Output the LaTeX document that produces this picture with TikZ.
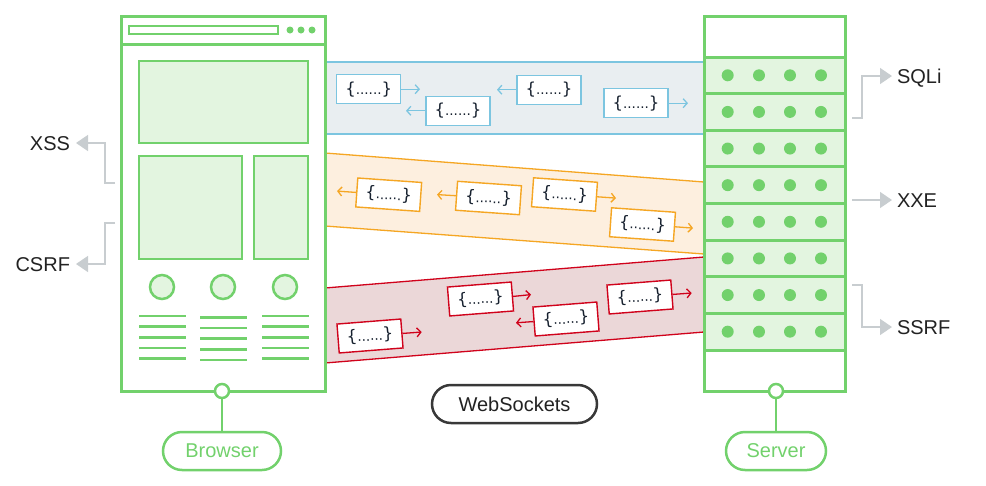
\documentclass[tikz,border=0pt]{standalone}
\usepackage{fontspec}
\setmainfont{Liberation Sans}
\newfontfamily\boxfont{DejaVu Sans}
\usetikzlibrary{arrows.meta}
\definecolor{gr}{HTML}{72D16C}
\definecolor{grf}{HTML}{E3F5E0}
\definecolor{bl}{HTML}{7CC5E0}
\definecolor{blf}{HTML}{E9EEF1}
\definecolor{org}{HTML}{F5A623}
\definecolor{orf}{HTML}{FDEFDF}
\definecolor{rd}{HTML}{D0021B}
\definecolor{rdf}{HTML}{EBD7D8}
\definecolor{gy}{HTML}{C8CDD0}
\definecolor{tx}{HTML}{222222}
\definecolor{bx}{HTML}{16202E}
\newcommand\msgtxt{{\fontsize{16.5}{16.5}\selectfont\{}......{\fontsize{16.5}{16.5}\selectfont\}}}
\begin{document}
\begin{tikzpicture}[x=1pt,y=-1pt,
  frame/.style={draw=gr,line width=3pt},
  panel/.style={draw=gr,fill=grf,line width=2.5pt},
  tline/.style={draw=gr,line width=2.5pt},
  msg/.style={draw=#1,fill=white,line width=1.4pt,minimum width=64pt,minimum height=29pt,inner sep=0pt,font=\boxfont\fontsize{13.5}{15}\selectfont,text=bx},
  marr/.style={draw=#1,line width=1.3pt,-{Straight Barb[length=4pt,width=9pt,line width=1.3pt]}},
  gconn/.style={draw=gy,line width=1.5pt,-{Triangle[length=12pt,width=16pt]}},
  lab/.style={font=\fontsize{20}{20}\selectfont,text=tx,inner sep=0pt,text height=14.3pt,text depth=0pt},
  pill/.style={draw=#1,line width=2.5pt,rounded corners=19pt,minimum height=38pt,inner sep=0pt,font=\fontsize{20}{20}\selectfont},
  joint/.style={circle,draw=gr,fill=white,line width=2.5pt,minimum size=14pt,inner sep=0pt},
  dot/.style={fill=gr}
]
\useasboundingbox (0,0) rectangle (986,485);

% channels
\fill[blf] (325,62) rectangle (704,134);
\draw[bl,line width=1.3pt] (325,62) -- (704,62) (325,134) -- (704,134);
\draw[org,fill=orf,line width=1.3pt] (325,153) -- (704,182) -- (704,254) -- (325,226) -- cycle;
\draw[rd,fill=rdf,line width=1.3pt] (325,288) -- (704,257) -- (704,332) -- (325,363) -- cycle;

% browser
\draw[frame,fill=white] (121,16) rectangle (325,391);
\draw[frame] (121,44) -- (325,44);
\draw[draw=gr,line width=2pt,fill=white] (129,26) rectangle (278,34);
\foreach \x in {290,301,312} \fill[dot] (\x,30) circle (3.5pt);
\draw[panel] (139,61) rectangle (308,143);
\draw[panel] (139,156) rectangle (242,259);
\draw[panel] (254,156) rectangle (308,259);
\foreach \x in {162,223,285} \draw[panel] (\x,287) circle (12pt);
\foreach \y in {316,326.7,337.3,348,358.7} {
  \draw[tline] (139,\y) -- (186,\y);
  \draw[tline] (262,\y) -- (308.5,\y);
  \draw[tline] (200,\y+1.3) -- (247,\y+1.3);
}
\node[joint] (bc) at (222,391) {};
\node[pill=gr,minimum width=118pt,text=gr] (bp) at (222,451) {Browser};
\draw[gr,line width=2.5pt] (bc) -- (bp);

% server
\draw[frame,fill=white] (704,16) rectangle (845,391);
\fill[grf] (704,57) rectangle (845,350);
\foreach \i in {0,...,8} \draw[gr,line width=3pt] (704,57+36.625*\i) -- (845,57+36.625*\i);
\foreach \i in {0,...,7} \foreach \x in {727.7,759,790,821} \fill[dot] (\x,75.3+36.625*\i) circle (6pt);
\draw[frame] (704,16) rectangle (845,391);
\node[joint] (sc) at (776,391) {};
\node[pill=gr,minimum width=100pt,text=gr] (sp) at (776,451) {Server};
\draw[gr,line width=2.5pt] (sc) -- (sp);

% websockets
\node[pill=tx!90,minimum width=165pt,text=tx] (ws) at (514.5,404) {WebSockets};

% blue messages
\node[msg=bl] (b1) at (368.7,89.2) {\msgtxt};
\node[msg=bl] (b2) at (458,110.8) {\msgtxt};
\node[msg=bl] (b3) at (549,89.7) {\msgtxt};
\node[msg=bl] (b4) at (636,103.2) {\msgtxt};
\coordinate (b1a) at (420,89.2);
\coordinate (b2a) at (406,110.8);
\coordinate (b3a) at (497,89.7);
\coordinate (b4a) at (688,103.2);
\draw[marr=bl] (b1.east) -- (b1a);
\draw[marr=bl] (b2.west) -- (b2a);
\draw[marr=bl] (b3.west) -- (b3a);
\draw[marr=bl] (b4.east) -- (b4a);

% orange messages
\node[msg=org,rotate=-4] (o1) at (388.7,194.7) {\msgtxt};
\node[msg=org,rotate=-4] (o2) at (488.5,198) {\msgtxt};
\node[msg=org,rotate=-4] (o3) at (564.5,194.5) {\msgtxt};
\node[msg=org,rotate=-4] (o4) at (642.5,224.5) {\msgtxt};
\coordinate (o1a) at (337,191.1);
\coordinate (o2a) at (437,194.6);
\coordinate (o3a) at (616,198.1);
\coordinate (o4a) at (693,228.1);
\draw[marr=org] (o1.west) -- (o1a);
\draw[marr=org] (o2.west) -- (o2a);
\draw[marr=org] (o3.east) -- (o3a);
\draw[marr=org] (o4.east) -- (o4a);

% red messages
\node[msg=rd,rotate=4.5] (r1) at (370,336) {\msgtxt};
\node[msg=rd,rotate=4.5] (r2) at (480.5,299) {\msgtxt};
\node[msg=rd,rotate=4.5] (r3) at (566,319) {\msgtxt};
\node[msg=rd,rotate=4.5] (r4) at (640,297) {\msgtxt};
\coordinate (r1a) at (421.7,332);
\coordinate (r2a) at (531,294.6);
\coordinate (r3a) at (516,322.8);
\coordinate (r4a) at (691.7,293);
\draw[marr=rd] (r1.east) -- (r1a);
\draw[marr=rd] (r2.east) -- (r2a);
\draw[marr=rd] (r3.west) -- (r3a);
\draw[marr=rd] (r4.east) -- (r4a);

% labels
\node[lab,anchor=west,outer xsep=5pt] (sqli) at (892,76) {SQLi};
\node[lab,anchor=west,outer xsep=5pt] (xxe) at (892,200) {XXE};
\node[lab,anchor=west,outer xsep=5pt] (ssrf) at (892,327) {SSRF};
\node[lab,anchor=east,outer xsep=6pt] (xss) at (76,143) {XSS};
\node[lab,anchor=east,outer xsep=6pt] (csrf) at (76,264) {CSRF};
\coordinate (sq0) at (852,118);
\coordinate (xx0) at (852,200);
\coordinate (ss0) at (852,285);
\coordinate (xs0) at (115,183);
\coordinate (cs0) at (115,223);
\draw[gconn] (sq0) -- ++(10,0) |- (sqli.west);
\draw[gconn] (xx0) -- (xxe.west);
\draw[gconn] (ss0) -- ++(10,0) |- (ssrf.west);
\draw[gconn] (xs0) -- ++(-10,0) |- (xss.east);
\draw[gconn] (cs0) -- ++(-10,0) |- (csrf.east);
\end{tikzpicture}
\end{document}
